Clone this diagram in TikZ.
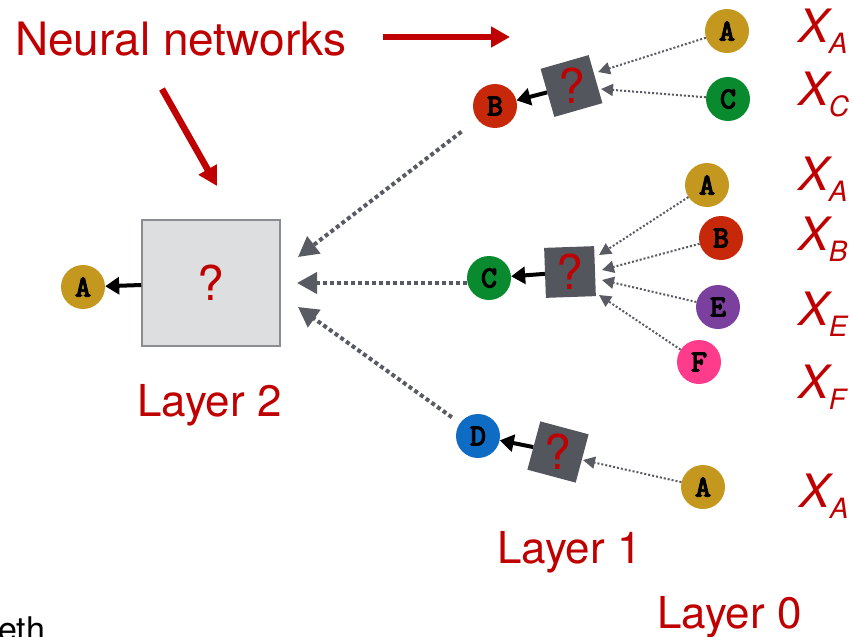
\documentclass[tikz,border=0pt]{standalone}
\usepackage{fontspec}
\setmainfont{TeX Gyre Heros}
\newfontfamily\monob{lmmonolt10-bold.otf}[FakeBold=2.5]
\usetikzlibrary{arrows.meta}
\definecolor{nnred}{RGB}{192,0,0}
\definecolor{sqgray}{RGB}{83,86,92}
\definecolor{arrgray}{RGB}{88,91,97}
\definecolor{boxgray}{RGB}{221,222,224}
\definecolor{boxedge}{RGB}{138,140,144}
\definecolor{cgold}{RGB}{196,152,30}
\definecolor{cred}{RGB}{200,40,10}
\definecolor{cgreen}{RGB}{10,138,46}
\definecolor{cpurple}{RGB}{123,63,158}
\definecolor{cpink}{RGB}{255,60,140}
\definecolor{cblue}{RGB}{15,108,196}
\tikzset{
 letter/.style={circle, minimum size=44pt, inner sep=0pt, font=\monob\fontsize{31}{31}\selectfont},
 qsq/.style={fill=sqgray, minimum size=50pt, inner sep=0pt},
 qmark/.style={text=nnred, font=\fontsize{48}{48}\selectfont, inner sep=0pt},
 bigdot/.style={draw=arrgray, line width=4pt, dash pattern=on 4pt off 3pt, -{Triangle[length=20pt,width=21pt]}},
 thindot/.style={draw=arrgray, line width=2pt, dash pattern=on 2pt off 2pt, -{Triangle[length=12pt,width=12pt]}},
 blackarr/.style={draw=black, line width=4pt, -{Triangle[length=14pt,width=17pt]}},
 redarr/.style={draw=nnred, line width=6.5pt, -{Triangle[length=19pt,width=20pt]}},
 layer/.style={text=nnred, font=\fontsize{44}{44}\selectfont, inner sep=0pt, anchor=base west},
 xlab/.style={text=nnred, font=\fontsize{46}{46}\selectfont\itshape, inner sep=0pt, anchor=base west},
}
\newcommand{\xsub}[1]{X\raisebox{-11pt}{\fontsize{28}{28}\selectfont #1}}
\begin{document}
\begin{tikzpicture}[x=1pt,y=-1pt]
\useasboundingbox (0,0) rectangle (852,637);
% title
\node[text=nnred, font=\fontsize{46}{46}\selectfont, inner sep=0pt, anchor=base west] (nn) at (15,55) {Neural networks};
\coordinate (r1s) at (383,37); \coordinate (r1e) at (510,37);
\coordinate (r2s) at (162,89); \coordinate (r2e) at (217,186);
\draw[redarr] (r1s) -- (r1e);
\draw[redarr] (r2s) -- (r2e);
% layer 2
\node[draw=boxedge, fill=boxgray, line width=1.5pt, minimum width=138pt, minimum height=126pt, inner sep=0pt] (box) at (211,283) {};
\node[qmark] (q0) at (211,283) {?};
\node[letter, fill=cgold] (A0) at (83,287) {A};
\draw[blackarr] (box.west |- 0,285) coordinate (bw) -- (A0);
\node[layer] (l2) at (137,416) {Layer 2};
% layer 1 nodes
\node[letter, fill=cred] (B1) at (495,106) {B};
\node[letter, fill=cgreen] (C1) at (489,278) {C};
\node[letter, fill=cblue] (D1) at (478,436) {D};
\node[qsq, rotate=16] (s1) at (571.5,86) {};
\node[qsq, rotate=2] (s2) at (570,272) {};
\node[qsq, rotate=-15] (s3) at (558,452) {};
\node[qmark] (q1) at (571.5,86) {?};
\node[qmark] (q2) at (570,272) {?};
\node[qmark] (q3) at (558,452) {?};
\draw[blackarr] (s1) -- (B1);
\draw[blackarr] (s2) -- (C1);
\draw[blackarr] (s3) -- (D1);
\node[layer] (l1) at (497,563) {Layer 1};
% big dotted
\coordinate (t1) at (298,257);
\coordinate (t2) at (297,283);
\coordinate (t3) at (298,307);
\coordinate (c1s) at (466,283);
\draw[bigdot, shorten <=20pt] (B1) -- (t1);
\draw[bigdot] (C1.west |- c1s) -- (t2);
\draw[bigdot, shorten <=10pt] (D1) -- (t3);
% layer 0 nodes
\node[letter, fill=cgold] (a1) at (727,31) {A};
\node[letter, fill=cgreen] (c1) at (728,99) {C};
\node[letter, fill=cgold] (a2) at (707,185) {A};
\node[letter, fill=cred] (b2) at (721,238) {B};
\node[letter, fill=cpurple] (e2) at (718,307) {E};
\node[letter, fill=cpink] (f2) at (699,362) {F};
\node[letter, fill=cgold] (a3) at (703,487) {A};
\coordinate (p11) at (598,72);
\coordinate (p12) at (601,89);
\coordinate (p21) at (599,255);
\coordinate (p22) at (602,270);
\coordinate (p23) at (602,280);
\coordinate (p24) at (599,295);
\coordinate (p31) at (583,460);
\draw[thindot] (a1) -- (p11);
\draw[thindot] (c1) -- (p12);
\draw[thindot] (a2) -- (p21);
\draw[thindot] (b2) -- (p22);
\draw[thindot] (e2) -- (p23);
\draw[thindot] (f2) -- (p24);
\draw[thindot] (a3) -- (p31);
\node[layer] (l0) at (657,628) {Layer 0};
% labels
\node[xlab] (x1) at (798,42) {\xsub{A}};
\node[xlab] (x2) at (798,105) {\xsub{C}};
\node[xlab] (x3) at (798,190) {\xsub{A}};
\node[xlab] (x4) at (798,250) {\xsub{B}};
\node[xlab] (x5) at (798,325) {\xsub{E}};
\node[xlab] (x6) at (798,398) {\xsub{F}};
\node[xlab] (x7) at (799,507) {\xsub{A}};
% cut-off text, as in the reference
\begin{scope}
\clip (0,0) rectangle (852,637);
\node[font=\fontsize{34}{34}\selectfont, inner sep=0pt, anchor=base west] (eth) at (-2,641) {eth};
\end{scope}
\end{tikzpicture}
\end{document}
